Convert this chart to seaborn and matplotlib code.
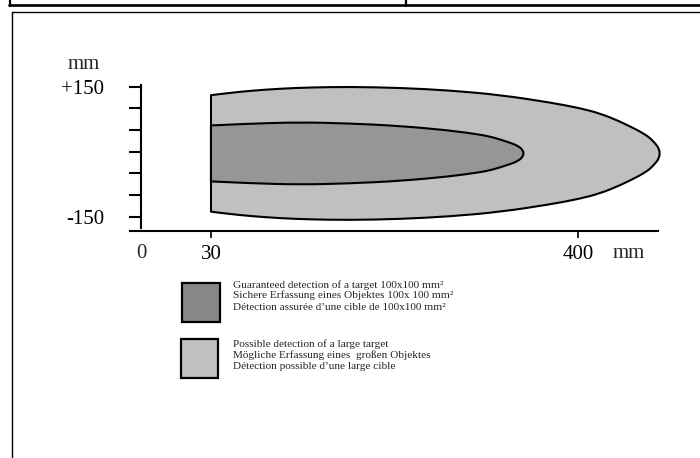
import matplotlib
matplotlib.use("Agg")
import matplotlib.pyplot as plt
import seaborn as sns
import numpy as np
from matplotlib.patches import Rectangle, PathPatch
from matplotlib.path import Path
from matplotlib.lines import Line2D

sns.set_theme(style="white")
plt.rcParams["font.family"] = ["Liberation Serif", "DejaVu Serif"]

# Detection lobes: distance (mm) and half width (mm)
outer_x = [30, 49.2, 69.3, 99.6, 129.8, 170.1, 220.5, 271.0, 321.4, 371.8,
           402.0, 422.2, 442.4, 462.5, 467.6, 472.6, 478.7, 481.2, 482.7]
outer_half = [134.5, 139.8, 144.5, 149.5, 152.3, 153.7, 151.4, 145.4, 135.0, 117.7,
              104.5, 92.3, 73.8, 50.8, 43.4, 35.8, 20.8, 12.7, 0]
inner_x = [30, 69.3, 119.7, 170.1, 220.5, 271.0, 301.2, 311.3, 321.4, 333.5,
           337.5, 341.5, 343.5, 345.6]
inner_half = [64.6, 68.8, 72.0, 69.2, 63.5, 53.1, 43.4, 38.8, 32.3, 23.1,
              19.3, 13.8, 9.6, 0]
lobe_centre = -4

y_ticks = [-150, -100, -50, 0, 50, 100, 150]
y_ticklabels = ["-150", "", "", "", "", "", "+150"]
x_ticks = [30, 400]
x_ticklabels = ["30", "400"]

guaranteed_text = ["Guaranteed detection of a target 100x100 mm²",
                   "Sichere Erfassung eines Objektes 100x 100 mm²",
                   "Détection assurée d\u2019une cible de 100x100 mm²"]
possible_text = ["Possible detection of a large target",
                 "Mögliche Erfassung eines  großen Objektes",
                 "Détection possible d\u2019une large cible"]

light_grey = "#c0c0c0"
dark_grey = "#969696"
legend_dark = "#878787"

W, H = 700, 458


def fig_xy(x, y):
    # pixel position -> figure fraction
    return x / W, 1 - y / H


fig = plt.figure(figsize=(7, 4.58), dpi=100)
ax = fig.add_axes([0, 0, 1, 1])
ax.set_xlim(-182.7, 523.0)
ax.set_ylim(-706.9, 350.1)
ax.set_facecolor("none")
ax.grid(False)


def draw_lobe(xs, half, colour):
    xs = np.asarray(xs, float)
    half = np.asarray(half, float)
    # outline: upper edge out to the tip, lower edge back, straight left side
    pts = np.column_stack([np.r_[xs, xs[-2::-1]],
                           np.r_[lobe_centre + half, (lobe_centre - half)[-2::-1]]])
    verts = [pts[0]]
    codes = [Path.MOVETO]
    for i in range(1, len(pts) - 1):
        end = pts[i + 1] if i == len(pts) - 2 else (pts[i] + pts[i + 1]) / 2
        verts += [pts[i], end]
        codes += [Path.CURVE3, Path.CURVE3]
    verts.append(pts[0])
    codes.append(Path.CLOSEPOLY)
    ax.add_patch(PathPatch(Path(verts, codes), facecolor=colour, edgecolor="black",
                           linewidth=1.5, joinstyle="round", zorder=2))


draw_lobe(outer_x, outer_half, light_grey)
draw_lobe(inner_x, inner_half, dark_grey)

# axes lines
for side in ["top", "right"]:
    ax.spines[side].set_visible(False)
ax.spines["left"].set_position(("data", -40.6))
ax.spines["left"].set_bounds(-176.1, 153.9)
ax.spines["bottom"].set_position(("data", -182.3))
ax.spines["bottom"].set_bounds(-51.7, 480.7)
for side in ["left", "bottom"]:
    ax.spines[side].set_linewidth(1.5)
    ax.spines[side].set_color("black")

ax.set_yticks(y_ticks)
ax.set_yticklabels(y_ticklabels)
ax.set_xticks(x_ticks)
ax.set_xticklabels(x_ticklabels)
ax.tick_params(axis="y", direction="out", length=8.6, width=1.5, pad=18,
               labelsize=15, colors="black", left=True)
ax.tick_params(axis="x", direction="out", length=5.3, width=1.2, pad=5,
               labelsize=15, colors="black", bottom=True)

ax.text(-40.6, -236, "0", ha="center", va="center", fontsize=15)
ax.text(451, -236, "mm", ha="center", va="center", fontsize=15)
ax.text(-98.5, 190, "mm", ha="center", va="baseline", fontsize=15)

# legend swatches and text
for (x0, y0, x1, y1), colour in [((182, 283, 220, 322), legend_dark),
                                 ((181, 339, 218, 378), light_grey)]:
    fx, fy = fig_xy(x0, y1)
    fig.add_artist(Rectangle((fx, fy), (x1 - x0) / W, (y1 - y0) / H,
                             transform=fig.transFigure, facecolor=colour,
                             edgecolor="black", linewidth=1.6))

for lines, base in [(guaranteed_text, 287.5), (possible_text, 347)]:
    for i, line in enumerate(lines):
        fx, fy = fig_xy(233, base + 11 * i)
        fig.text(fx, fy, line, ha="left", va="baseline", fontsize=8.1)

# page frame and bottom of the previous table row
def frame_line(x0, y0, x1, y1, lw):
    a, b = fig_xy(x0, y0)
    c, d = fig_xy(x1, y1)
    fig.add_artist(Line2D([a, c], [b, d], transform=fig.transFigure,
                          color="black", linewidth=lw))

frame_line(9, 5.3, 700, 5.3, 1.9)
frame_line(10, 0, 10, 6, 1.6)
frame_line(406, 0, 406, 6, 1.6)
frame_line(11.5, 12.3, 700, 12.3, 1.0)
frame_line(11.5, 12.3, 11.5, 458, 1.0)

fig.savefig("out.png", dpi=100, facecolor="white")
